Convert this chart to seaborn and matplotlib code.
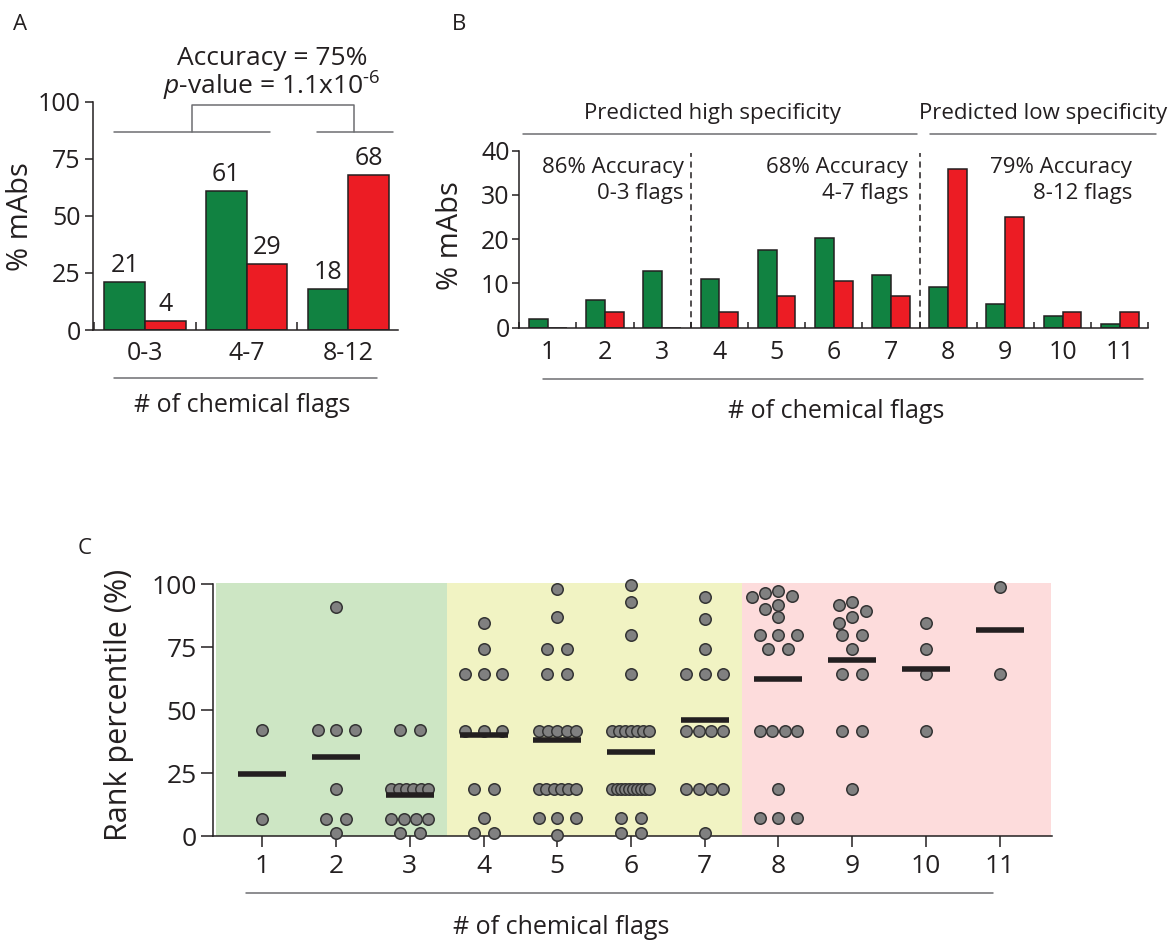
import numpy as np
import pandas as pd
import matplotlib
matplotlib.use('Agg')
import matplotlib.pyplot as plt
import seaborn as sns

sns.set_style('ticks')
plt.rcParams['font.family'] = ['Open Sans', 'DejaVu Sans']
plt.rcParams['mathtext.fontset'] = 'custom'
plt.rcParams['mathtext.rm'] = 'Open Sans'
plt.rcParams['mathtext.it'] = 'Open Sans:italic'
plt.rcParams['axes.linewidth'] = 1.1
plt.rcParams['text.color'] = '#231f20'
plt.rcParams['xtick.color'] = '#231f20'
plt.rcParams['ytick.color'] = '#231f20'
plt.rcParams['axes.edgecolor'] = '#231f20'

GREEN = '#118241'
RED = '#ec1c24'
INK = '#231f20'
RULE = '#6d6e71'

# ---- panel A: % of mAbs per flag range
range_labels = ['0-3', '4-7', '8-12']
high_spec_pct = [21, 61, 18]
low_spec_pct = [4, 29, 68]

# ---- panel B: % of mAbs per number of flags
flags = list(range(1, 12))
high_spec_by_flag = [1.9, 6.2, 12.9, 10.9, 17.5, 20.2, 12.0, 9.3, 5.4, 2.7, 0.8]
low_spec_by_flag = [0, 3.5, 0, 3.5, 7.1, 10.6, 7.1, 35.9, 25.0, 3.5, 3.5]
acc_text = ['86% Accuracy\n0-3 flags', '68% Accuracy\n4-7 flags', '79% Accuracy\n8-12 flags']

# ---- panel C: rank percentile of each mAb, by number of flags
rank_f1 = [42.1, 6.9]
rank_f2 = [90.9, 42.1, 42.1, 42.1, 18.7, 6.9, 6.9, 1.1]
rank_f3 = [42.1, 42.1] + [18.7] * 6 + [6.9] * 4 + [1.1] * 2
rank_f4 = [84.5, 74.2] + [64.4] * 3 + [41.8] * 3 + [18.7] * 2 + [7.0] + [1.1] * 2
rank_f5 = [98.1, 87.1, 74.2, 74.2, 64.4, 64.4] + [41.8] * 5 + [18.7] * 6 + [7.0] * 3 + [0.5]
rank_f6 = [99.7, 92.8, 79.9, 64.4] + [41.8] * 7 + [18.7] * 10 + [7.0] * 2 + [1.1] * 2
rank_f7 = [95.1, 86.2, 74.2] + [64.4] * 3 + [41.8] * 4 + [18.7] * 4 + [1.1]
rank_f8 = [97.5, 96.7, 95.4, 94.8, 91.8, 90.1, 87.1] + [79.9] * 3 + [74.2] * 2 + [41.8] * 4 + [18.7] + [7.0] * 3
rank_f9 = [92.8, 91.8, 89.4, 87.1, 84.5, 79.9, 79.9, 74.2, 64.4, 64.4, 41.8, 41.8, 18.7]
rank_f10 = [84.5, 74.2, 64.4, 41.8]
rank_f11 = [99.0, 64.4]
rank_lists = [rank_f1, rank_f2, rank_f3, rank_f4, rank_f5, rank_f6,
              rank_f7, rank_f8, rank_f9, rank_f10, rank_f11]

fig = plt.figure(figsize=(11.75, 9.43), dpi=100)
W, H = 1175, 943


def px_axes(x0, x1, y_bottom, y_top):
    return fig.add_axes([x0 / W, 1 - y_bottom / H, (x1 - x0) / W, (y_bottom - y_top) / H])


def px_text(x, y, s, **kw):
    fig.text(x / W, 1 - y / H, s, **kw)


# ================= A =================
axA = px_axes(93.3, 398, 330, 101.7)
dfA = pd.DataFrame({
    'range': range_labels * 2,
    'pct': high_spec_pct + low_spec_pct,
    'spec': ['high'] * 3 + ['low'] * 3,
})
sns.barplot(data=dfA, x='range', y='pct', hue='spec', palette=[GREEN, RED], saturation=1,
            width=0.8, gap=0, edgecolor=INK, linewidth=1.1, legend=False, ax=axA)
for cont in axA.containers:
    axA.bar_label(cont, fmt='%d', padding=3, fontsize=18)
axA.set_xlim(-0.51, 2.49)
axA.set_ylim(0, 100)
axA.set_yticks([0, 25, 50, 75, 100])
axA.set_xticks([-0.5, 0.5, 1.5], minor=True)
axA.tick_params(axis='x', which='major', length=0, pad=8, labelsize=18)
axA.tick_params(axis='x', which='minor', direction='in', length=6, width=1.1)
axA.tick_params(axis='y', length=6, width=1.1, pad=3, labelsize=18)
axA.set_xlabel('')
axA.set_ylabel('')
sns.despine(ax=axA)
# bracket and grouping rules
axA.plot([-0.305, 1.23], [86.6, 86.6], color=RULE, lw=1.1, clip_on=False)
axA.plot([1.69, 2.44], [86.6, 86.6], color=RULE, lw=1.1, clip_on=False)
axA.plot([0.466, 0.466, 2.06, 2.06], [86.6, 98.6, 98.6, 86.6], color=RULE, lw=1.1, clip_on=False)
axA.plot([-0.305, 2.28], [-21, -21], color=RULE, lw=1.1, clip_on=False)
axA.text(1.25, 119, 'Accuracy = 75%', ha='center', va='center', fontsize=19)
axA.text(1.25, 106.5, r'$\it{p}$-value = 1.1x10$^{\text{-6}}$', ha='center', va='center', fontsize=19)
px_text(242.5, 405, '# of chemical flags', ha='center', va='center', fontsize=18)
px_text(21, 217, '% mAbs', ha='center', va='center', rotation=90, fontsize=21)
px_text(20, 25, 'A', ha='center', va='center', fontsize=16)

# ================= B =================
axB = px_axes(519.3, 1148.3, 327.7, 150.7)
dfB = pd.DataFrame({
    'flags': flags * 2,
    'pct': high_spec_by_flag + low_spec_by_flag,
    'spec': ['high'] * 11 + ['low'] * 11,
})
sns.barplot(data=dfB, x='flags', y='pct', hue='spec', palette=[GREEN, RED], saturation=1,
            width=0.66, gap=0, edgecolor=INK, linewidth=1.1, legend=False, ax=axB)
axB.set_xlim(-0.5, 10.5)
axB.set_ylim(0, 40)
axB.set_yticks([0, 10, 20, 30, 40])
axB.set_xticks(np.arange(-0.5, 10.6, 1.0), minor=True)
axB.tick_params(axis='x', which='major', length=0, pad=9, labelsize=18)
axB.tick_params(axis='x', which='minor', direction='in', length=4, width=1.1)
axB.tick_params(axis='y', length=5, width=1.1, pad=2, labelsize=18)
axB.set_xlabel('')
axB.set_ylabel('')
sns.despine(ax=axB)
for xd in [2.5, 6.5]:
    axB.vlines(xd, 0, 39.5, colors=INK, linestyles=(0, (4, 3)), lw=1.1)
for xr, txt in zip([2.38, 6.3, 10.22], acc_text):
    axB.text(xr, 33.2, txt, ha='right', va='center', fontsize=16, linespacing=1.3)
axB.plot([-0.44, 6.45], [43.8, 43.8], color=RULE, lw=1.1, clip_on=False)
axB.plot([6.68, 10.64], [43.8, 43.8], color=RULE, lw=1.1, clip_on=False)
axB.text(2.88, 48.4, 'Predicted high specificity', ha='center', va='center', fontsize=16)
axB.text(8.66, 48.4, 'Predicted low specificity', ha='center', va='center', fontsize=16)
axB.plot([-0.09, 10.41], [-11.6, -11.6], color=RULE, lw=1.1, clip_on=False)
px_text(836, 412, '# of chemical flags', ha='center', va='center', fontsize=18)
px_text(450, 236, '% mAbs', ha='center', va='center', rotation=90, fontsize=21)
px_text(459, 25, 'B', ha='center', va='center', fontsize=16)

# ================= C =================
axC = px_axes(213.3, 1052, 836, 584.3)
PX_X, PX_Y = 73.7, 2.517   # pixels per data unit
DOT = 12.0


def layout(vals):
    """spread equal values in rows, then swarm the remaining singles"""
    vals = np.asarray(vals, dtype=float)
    uniq, counts = np.unique(vals, return_counts=True)
    placed = []
    for v, n in zip(uniq, counts):
        if n > 1:
            step = min(20.0, 37.0 / (n - 1))
            for i in range(n):
                placed.append(((i - (n - 1) / 2) * step, v))
    cands = [0.0]
    for k in range(1, 8):
        cands += [-k * 6.7, k * 6.7]
    for v in sorted(uniq[counts == 1], reverse=True):
        for c in cands:
            ok = all(np.hypot(c - px, (v - pv) * PX_Y) >= DOT * 0.95 for px, pv in placed)
            if ok:
                placed.append((c, v))
                break
    return placed


rows = []
for f, vals in zip(flags, rank_lists):
    for off, v in layout(vals):
        rows.append({'flags': f, 'rank': v, 'xpos': f + off / PX_X})
dfC = pd.DataFrame(rows)

axC.axvspan(0.37, 3.5, ymin=0, ymax=1.007, color='#cde6c4', lw=0, clip_on=False, zorder=0)
axC.axvspan(3.5, 7.5, ymin=0, ymax=1.007, color='#f1f3c3', lw=0, clip_on=False, zorder=0)
axC.axvspan(7.5, 11.7, ymin=0, ymax=1.007, color='#fddcdc', lw=0, clip_on=False, zorder=0)
sns.scatterplot(data=dfC, x='xpos', y='rank', s=68, color='#808080',
                edgecolor='#333333', linewidth=1.1, clip_on=False, zorder=3, ax=axC)
sns.pointplot(data=dfC, x='flags', y='rank', native_scale=True, estimator='mean',
              errorbar=None, marker='_', markersize=35, markeredgewidth=4,
              color=INK, linestyle='none', zorder=4, ax=axC)
axC.set_xlim(0.335, 11.71)
axC.set_ylim(0, 100)
axC.set_xticks(flags)
axC.set_xticklabels([str(f) for f in flags])
axC.set_yticks([0, 25, 50, 75, 100])
axC.tick_params(axis='x', length=8, width=1.1, pad=5, labelsize=19)
axC.tick_params(axis='y', length=9, width=1.1, pad=3, labelsize=19)
axC.set_xlabel('')
axC.set_ylabel('')
sns.despine(ax=axC)
axC.plot([0.78, 10.91], [-22.6, -22.6], color=RULE, lw=1.1, clip_on=False)
px_text(561, 928, '# of chemical flags', ha='center', va='center', fontsize=18)
px_text(119.5, 705, 'Rank percentile (%)', ha='center', va='center', rotation=90, fontsize=22)
px_text(85, 548, 'C', ha='center', va='center', fontsize=16)

fig.savefig('out.png', dpi=100)
